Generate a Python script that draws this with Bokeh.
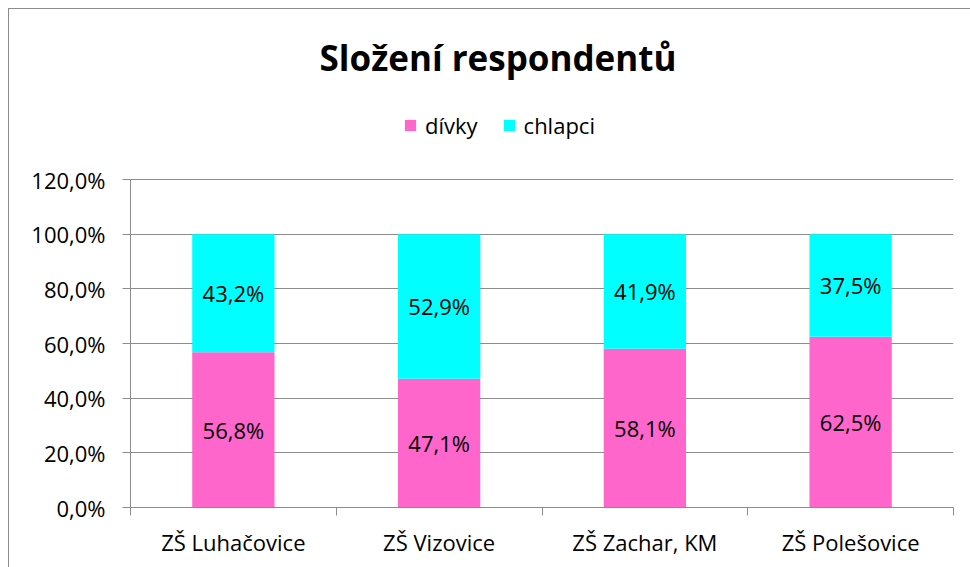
from bokeh.plotting import figure
from bokeh.models import (ColumnDataSource, Range1d, FixedTicker, CustomJSTickFormatter,
                          Legend, LegendItem, Label)
from bokeh.core.properties import value
from bokeh.embed import file_html
from bokeh.resources import INLINE

# ---- data ----
categories = ["ZŠ Luhačovice", "ZŠ Vizovice", "ZŠ Zachar, KM", "ZŠ Polešovice"]
divky = [56.8, 47.1, 58.1, 62.5]
chlapci = [43.2, 52.9, 41.9, 37.5]
series_names = ["dívky", "chlapci"]
y_ticks = [0, 20, 40, 60, 80, 100, 120]
title_text = "Složení respondentů"

colors = ["#FF66CC", "#00FFFF"]
FONT = "Open Sans"
FS = "22px"
GRID = "#8c8c8c"

# layout: the value axis occupies the lower 328 px of a 488 px tall frame
AXIS_PX, FRAME_PX = 328, 488
y_top = y_ticks[-1] * FRAME_PX / AXIS_PX

xs = [i + 0.5 for i in range(len(categories))]
bounds = [float(i) for i in range(len(categories) + 1)]

def fmt(v):
    return f"{v:.1f}".replace(".", ",") + "%"

src = ColumnDataSource(dict(x=xs, divky=divky, chlapci=chlapci))
lab_src = ColumnDataSource(dict(
    x=xs + xs,
    y=[d / 2 for d in divky] + [d + c / 2 for d, c in zip(divky, chlapci)],
    t=[fmt(d) for d in divky] + [fmt(c) for c in chlapci],
))

p = figure(width=980, height=575, output_backend="svg", toolbar_location=None,
           x_range=Range1d(0, len(categories)), y_range=Range1d(y_ticks[0], y_top),
           min_border_left=121, min_border_right=35, min_border_top=10, min_border_bottom=76,
           frame_width=823, frame_height=FRAME_PX)
p.styles = {"border": "1px solid #8c8c8c", "margin-left": "8px", "margin-top": "8px"}
p.outline_line_color = None
p.background_fill_color = "white"
p.border_fill_color = "white"

rs = p.vbar_stack(["divky", "chlapci"], x="x", width=0.4, source=src,
                  color=colors, line_color=None)

p.text(x="x", y="y", text="t", source=lab_src, text_align="center", text_baseline="middle",
       text_font=value(FONT), text_font_size=FS, text_color="black")

# axes
p.xgrid.visible = False
p.ygrid.grid_line_color = GRID
p.ygrid.ticker = FixedTicker(ticks=y_ticks)

p.yaxis.ticker = FixedTicker(ticks=y_ticks)
p.yaxis.bounds = (y_ticks[0], y_ticks[-1])
p.yaxis.formatter = CustomJSTickFormatter(code="return tick.toFixed(1).replace('.', ',') + '%';")
p.yaxis.axis_line_color = GRID
p.yaxis.major_tick_line_color = GRID
p.yaxis.major_tick_out = 8
p.yaxis.major_tick_in = 0
p.yaxis.minor_tick_line_color = None
p.yaxis.major_label_standoff = 17
p.yaxis.major_label_text_font = FONT
p.yaxis.major_label_text_font_size = FS
p.yaxis.major_label_text_color = "black"

p.xaxis.ticker = FixedTicker(ticks=xs, minor_ticks=bounds)
p.xaxis.major_label_overrides = {x: c for x, c in zip(xs, categories)}
p.xaxis.axis_line_color = GRID
p.xaxis.major_tick_line_color = None
p.xaxis.major_tick_out = 0
p.xaxis.major_tick_in = 0
p.xaxis.minor_tick_line_color = GRID
p.xaxis.minor_tick_out = 8
p.xaxis.minor_tick_in = 0
p.xaxis.major_label_standoff = 11
p.xaxis.major_label_text_font = FONT
p.xaxis.major_label_text_font_size = FS
p.xaxis.major_label_text_color = "black"

# legend
legend = Legend(items=[LegendItem(label=n, renderers=[r]) for n, r in zip(series_names, rs)],
                location=(273, 367), orientation="horizontal",
                glyph_width=14, glyph_height=14, label_standoff=8, spacing=24,
                padding=0, margin=0, border_line_color=None, background_fill_alpha=0,
                label_text_font=FONT, label_text_font_size=FS, label_text_color="black")
p.add_layout(legend, "center")

# title
title = Label(x=len(categories) / 2, y=y_ticks[-1], x_offset=-44, y_offset=122,
              text=title_text, text_align="center", text_baseline="middle",
              text_font=FONT, text_font_size="35px", text_font_style="bold",
              text_color="black")
p.add_layout(title)

open("out.html", "w").write(file_html(p, INLINE))
